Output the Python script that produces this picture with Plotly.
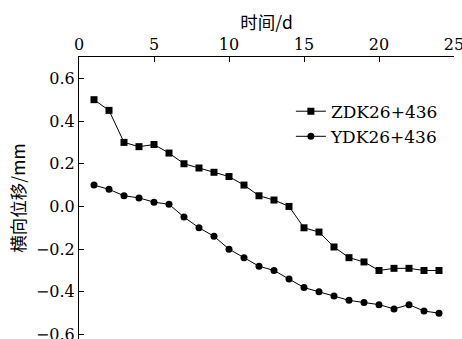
import plotly.graph_objects as go

days = list(range(1, 25))
zdk = [0.50, 0.45, 0.30, 0.28, 0.29, 0.25, 0.20, 0.18, 0.16, 0.14, 0.10, 0.05,
       0.03, 0.00, -0.10, -0.12, -0.19, -0.24, -0.26, -0.30, -0.29, -0.29, -0.30, -0.30]
ydk = [0.10, 0.08, 0.05, 0.04, 0.02, 0.01, -0.05, -0.10, -0.14, -0.20, -0.24, -0.28,
       -0.30, -0.34, -0.38, -0.40, -0.42, -0.44, -0.45, -0.46, -0.48, -0.46, -0.49, -0.50]
series_names = ["ZDK26+436", "YDK26+436"]
x_ticks = [0, 5, 10, 15, 20, 25]
y_ticks = [-0.6, -0.4, -0.2, 0.0, 0.2, 0.4, 0.6]

FONT = "DejaVu Serif"
CJK = "Noto Sans CJK SC"

fig = go.Figure()
fig.add_trace(go.Scatter(x=days, y=zdk, mode="lines+markers", name=series_names[0],
                         line=dict(color="black", width=1),
                         marker=dict(symbol="square", size=7, color="black")))
fig.add_trace(go.Scatter(x=days, y=ydk, mode="lines+markers", name=series_names[1],
                         line=dict(color="black", width=1),
                         marker=dict(symbol="circle", size=7, color="black")))

fig.update_layout(
    width=462, height=339,
    margin=dict(l=79, r=8, t=57, b=0),
    paper_bgcolor="white", plot_bgcolor="white",
    font=dict(family=FONT, size=16, color="black"),
    showlegend=True,
    legend=dict(x=0.565, y=0.87, xanchor="left", yanchor="top",
                bgcolor="rgba(0,0,0,0)", font=dict(family=FONT, size=17),
                tracegroupgap=0, itemwidth=30),
    xaxis=dict(side="top", range=[0, 25], tickvals=x_ticks,
               ticks="inside", ticklen=5, tickwidth=1, tickcolor="black",
               ticklabeloverflow="allow",
               showline=True, linecolor="black", linewidth=1,
               showgrid=False, zeroline=False, automargin=False,
               title=dict(text="时间/d", font=dict(family=CJK, size=17.5), standoff=0)),
    yaxis=dict(range=[-0.621, 0.7], tickvals=y_ticks, tickformat=".1f",
               ticks="inside", ticklen=5, tickwidth=1, tickcolor="black",
               ticklabeloverflow="allow",
               showline=True, linecolor="black", linewidth=1,
               showgrid=False, zeroline=False, automargin=False,
               title=dict(text="横向位移/mm", font=dict(family=CJK, size=17.5), standoff=5)),
)

fig.write_html("out.html", config={"displayModeBar": False},
               post_script="document.body.style.margin='0';document.body.style.overflow='hidden';")
